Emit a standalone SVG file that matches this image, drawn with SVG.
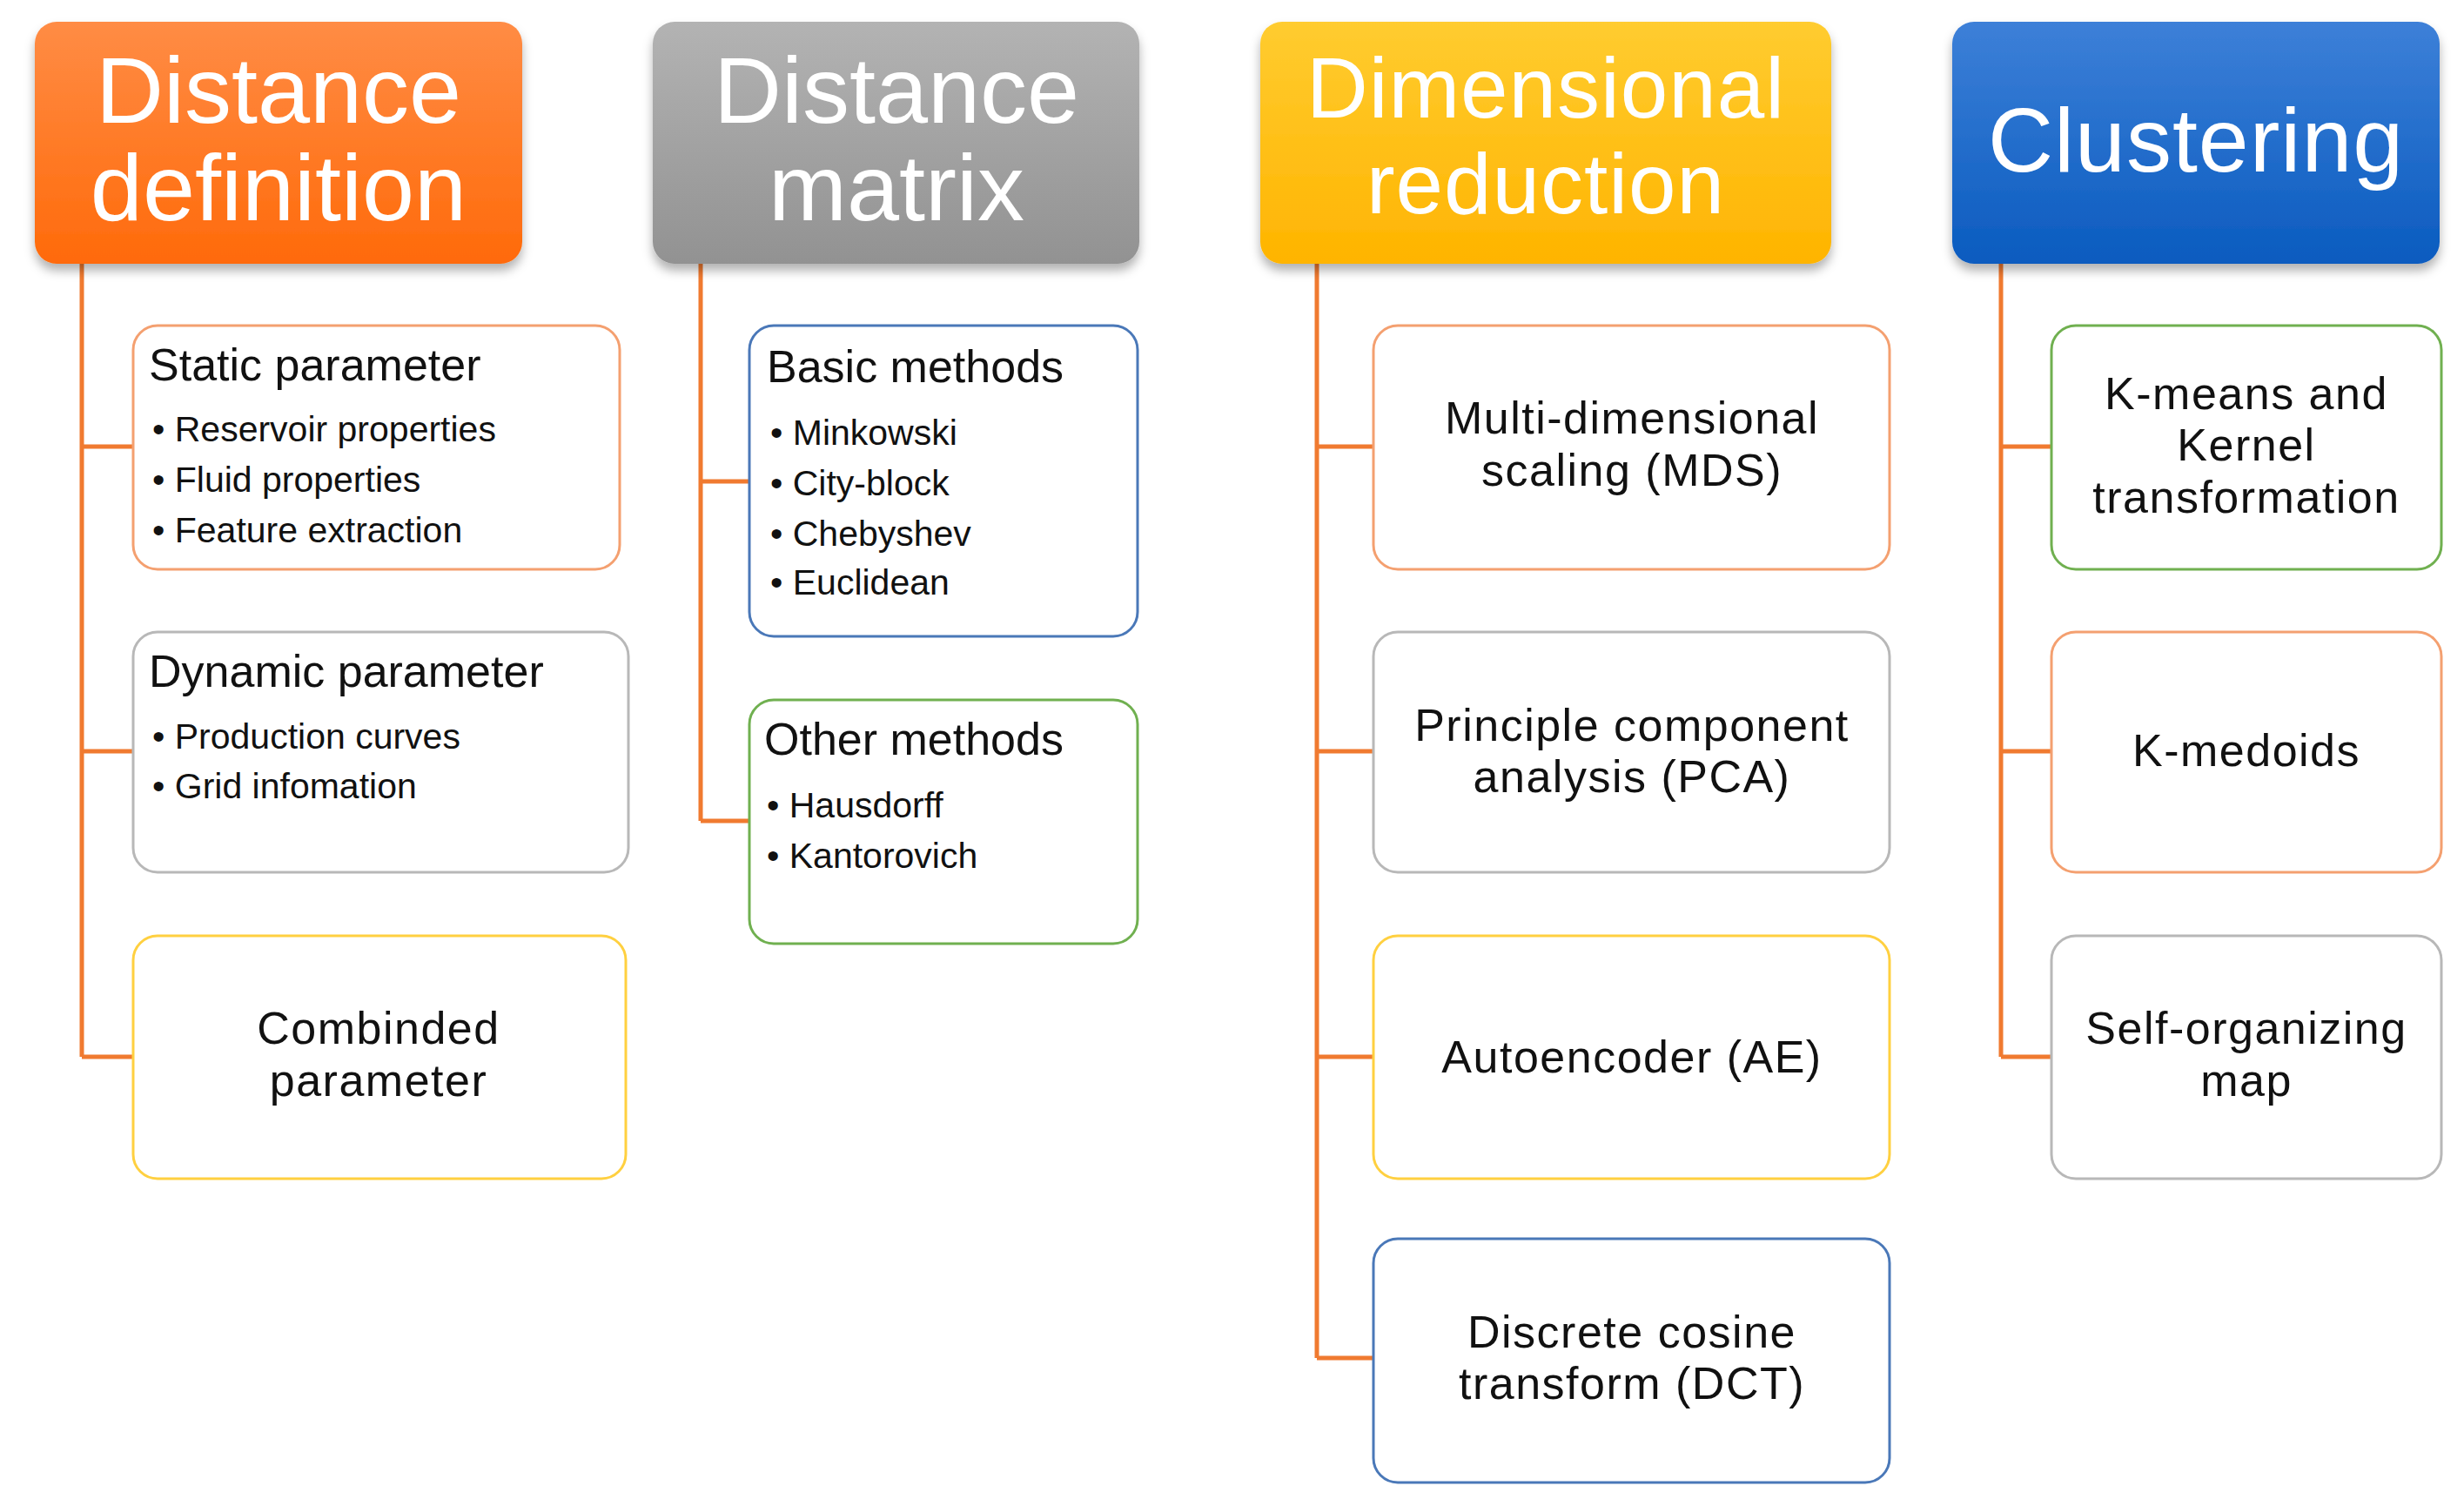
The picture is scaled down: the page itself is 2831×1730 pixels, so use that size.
<svg xmlns="http://www.w3.org/2000/svg" width="2831" height="1730" viewBox="0 0 2831 1730">
<style>
text{font-family:"Liberation Sans",Arial,sans-serif;fill:#111}
.h{fill:#fff;font-size:108px;text-anchor:middle}
.t{font-size:52px}
.b{font-size:41px}
.c{font-size:52px;text-anchor:middle;letter-spacing:1.5px}
.box{fill:#fff;stroke-width:3}
.con{stroke:#F07A30;stroke-width:5;fill:none}
</style>
<defs>
<linearGradient id="go" x1="0" y1="0" x2="0" y2="1"><stop offset="0" stop-color="#FF8C45"/><stop offset="1" stop-color="#FF6A0A"/></linearGradient>
<linearGradient id="gg" x1="0" y1="0" x2="0" y2="1"><stop offset="0" stop-color="#B3B3B3"/><stop offset="1" stop-color="#929292"/></linearGradient>
<linearGradient id="gy" x1="0" y1="0" x2="0" y2="1"><stop offset="0" stop-color="#FFCC30"/><stop offset="1" stop-color="#FFB400"/></linearGradient>
<linearGradient id="gb" x1="0" y1="0" x2="0" y2="1"><stop offset="0" stop-color="#3D80D8"/><stop offset="1" stop-color="#0A5BBF"/></linearGradient>
<filter id="sh" x="-10%" y="-10%" width="120%" height="130%"><feDropShadow dx="0" dy="8" stdDeviation="6" flood-color="#000" flood-opacity="0.3"/></filter>
</defs>
<g id="connectors" class="con">
<path d="M94 303V1214M94 513H153M94 863H153M94 1214H153"/>
<path d="M805 303V943M805 553H861M805 943H861"/>
<path d="M1513 303V1560M1513 513H1578M1513 863H1578M1513 1214H1578M1513 1560H1578"/>
<path d="M2299 303V1214M2299 513H2357M2299 863H2357M2299 1214H2357"/>
</g>
<g id="h1"><rect x="40" y="25" width="560" height="278" rx="25" fill="url(#go)" filter="url(#sh)"/><text class="h" x="320" y="141">Distance</text><text class="h" x="320" y="253">definition</text></g>
<g id="h2"><rect x="750" y="25" width="559" height="278" rx="25" fill="url(#gg)" filter="url(#sh)"/><text class="h" x="1030" y="141">Distance</text><text class="h" x="1030" y="253">matrix</text></g>
<g id="h3"><rect x="1448" y="25" width="656" height="278" rx="25" fill="url(#gy)" filter="url(#sh)"/><text class="h" x="1776" y="135" style="font-size:98px;letter-spacing:1px">Dimensional</text><text class="h" x="1776" y="245" style="font-size:98px;letter-spacing:1px">reduction</text></g>
<g id="h4"><rect x="2243" y="25" width="560" height="278" rx="25" fill="url(#gb)" filter="url(#sh)"/><text class="h" x="2523" y="197" style="font-size:104px;letter-spacing:1px">Clustering</text></g>

<g id="n1"><rect class="box" x="153" y="374" width="559" height="280" rx="28" stroke="#F4A070"/><text class="t" x="171" y="437">Static parameter</text>
<text class="b" x="175" y="507">• Reservoir  properties</text><text class="b" x="175" y="565">• Fluid properties</text><text class="b" x="175" y="623">• Feature  extraction</text></g>
<g id="n2"><rect class="box" x="153" y="726" width="569" height="276" rx="28" stroke="#B8B8B8"/><text class="t" x="171" y="789">Dynamic parameter</text>
<text class="b" x="175" y="860">• Production  curves</text><text class="b" x="175" y="917">• Grid infomation</text></g>
<g id="n3"><rect class="box" x="153" y="1075" width="566" height="279" rx="28" stroke="#FFD040"/><text class="c" x="435" y="1199">Combinded</text><text class="c" x="435" y="1259">parameter</text></g>

<g id="n4"><rect class="box" x="861" y="374" width="446" height="357" rx="28" stroke="#4A78B8"/><text class="t" x="881" y="439">Basic methods</text>
<text class="b" x="885" y="511">• Minkowski</text><text class="b" x="885" y="569">• City-block</text><text class="b" x="885" y="627">• Chebyshev</text><text class="b" x="885" y="683">• Euclidean</text></g>
<g id="n5"><rect class="box" x="861" y="804" width="446" height="280" rx="28" stroke="#70B050"/><text class="t" x="878" y="867">Other methods</text>
<text class="b" x="881" y="939">• Hausdorff</text><text class="b" x="881" y="997">• Kantorovich</text></g>

<g id="n6"><rect class="box" x="1578" y="374" width="593" height="280" rx="28" stroke="#F4A070"/><text class="c" x="1875" y="498">Multi-dimensional</text><text class="c" x="1875" y="558">scaling (MDS)</text></g>
<g id="n7"><rect class="box" x="1578" y="726" width="593" height="276" rx="28" stroke="#B8B8B8"/><text class="c" x="1875" y="851">Principle component</text><text class="c" x="1875" y="910">analysis (PCA)</text></g>
<g id="n8"><rect class="box" x="1578" y="1075" width="593" height="279" rx="28" stroke="#FFD040"/><text class="c" x="1875" y="1232">Autoencoder (AE)</text></g>
<g id="n9"><rect class="box" x="1578" y="1423" width="593" height="280" rx="28" stroke="#4A78B8"/><text class="c" x="1875" y="1548">Discrete cosine</text><text class="c" x="1875" y="1607">transform (DCT)</text></g>

<g id="n10"><rect class="box" x="2357" y="374" width="448" height="280" rx="28" stroke="#70B050"/><text class="c" x="2581" y="470">K-means and</text><text class="c" x="2581" y="529">Kernel</text><text class="c" x="2581" y="589">transformation</text></g>
<g id="n11"><rect class="box" x="2357" y="726" width="448" height="276" rx="28" stroke="#F4A070"/><text class="c" x="2581" y="880">K-medoids</text></g>
<g id="n12"><rect class="box" x="2357" y="1075" width="448" height="279" rx="28" stroke="#B8B8B8"/><text class="c" x="2581" y="1199">Self-organizing</text><text class="c" x="2581" y="1259">map</text></g>
</svg>
